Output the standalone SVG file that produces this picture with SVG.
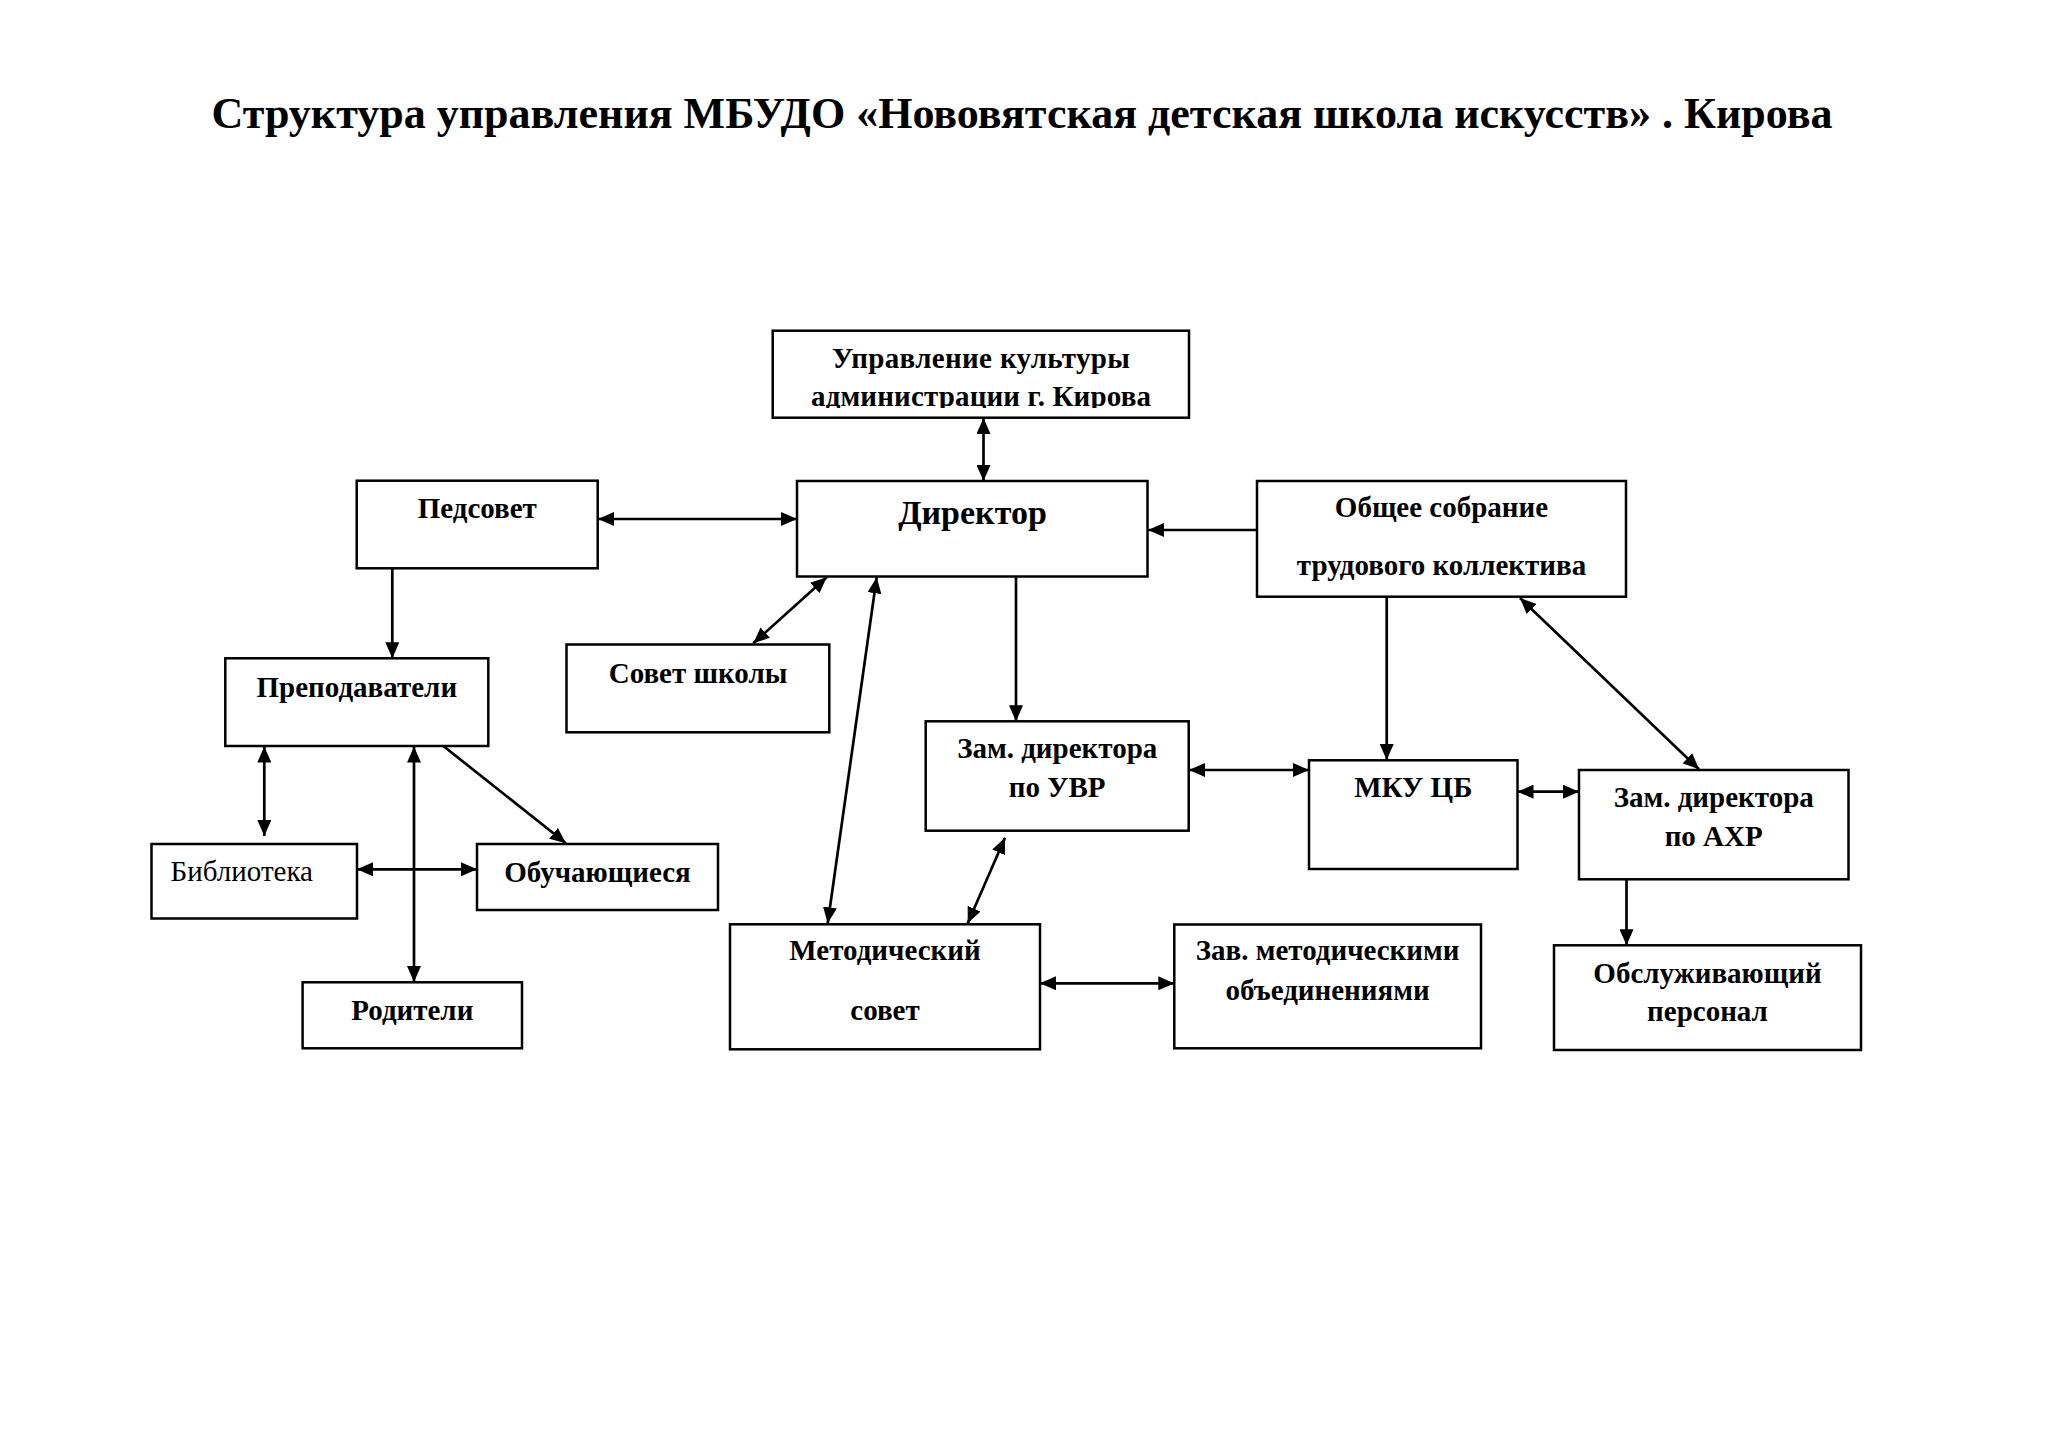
<svg xmlns="http://www.w3.org/2000/svg" width="2048" height="1448" viewBox="0 0 2048 1448">
<style>
.box{fill:#fff;stroke:#000;stroke-width:2.5}
.t{font-family:"Liberation Serif","Times New Roman",serif;font-weight:bold;font-size:29px;fill:#000;text-anchor:middle}
.r{font-weight:normal;text-anchor:start}
.c{fill:none;stroke:#000;stroke-width:2.7}
.a{marker-end:url(#arr)}
.b{marker-start:url(#arr);marker-end:url(#arr)}
</style>
<defs>
<marker id="arr" viewBox="0 0 16 14" markerWidth="16" markerHeight="14" refX="16" refY="7" orient="auto-start-reverse" markerUnits="userSpaceOnUse">
<path d="M0,0 L16,7 L0,14 z" fill="#000"/>
</marker>
<clipPath id="clipUpr"><rect x="772" y="330" width="418" height="78"/></clipPath>
</defs>
<rect width="2048" height="1448" fill="#fff"/>
<text class="t" x="1022" y="128" style="font-size:44px" textLength="1621" lengthAdjust="spacingAndGlyphs">Структура управления МБУДО «Нововятская детская школа искусств» . Кирова</text>

<g id="connectors">
<line class="c b" x1="983.5" y1="418" x2="983.5" y2="481"/>
<line class="c b" x1="598" y1="519" x2="797" y2="519"/>
<line class="c a" x1="1257" y1="530" x2="1148" y2="530"/>
<line class="c a" x1="392.3" y1="568.3" x2="392.3" y2="658.3"/>
<line class="c b" x1="753.3" y1="643.3" x2="826.7" y2="577.3"/>
<line class="c b" x1="827.7" y1="923.3" x2="876.7" y2="577.3"/>
<line class="c a" x1="1016" y1="576.7" x2="1016" y2="721.3"/>
<line class="c b" x1="1189" y1="770" x2="1309" y2="770"/>
<line class="c a" x1="1386.7" y1="596.7" x2="1386.7" y2="760"/>
<line class="c b" x1="1520" y1="598" x2="1699" y2="769.3"/>
<line class="c b" x1="1517.5" y1="791.7" x2="1579" y2="791.7"/>
<line class="c a" x1="1626.5" y1="879.3" x2="1626.5" y2="945.3"/>
<line class="c b" x1="967.7" y1="923.3" x2="1005" y2="837.7"/>
<line class="c b" x1="1040" y1="983.3" x2="1174.3" y2="983.3"/>
<line class="c b" x1="264.3" y1="746.5" x2="264.3" y2="836"/>
<line class="c b" x1="414" y1="746.5" x2="414" y2="982"/>
<line class="c b" x1="357" y1="869.3" x2="477" y2="869.3"/>
<line class="c a" x1="443.3" y1="746" x2="566" y2="843.3"/>
</g>

<g id="upravlenie">
<rect class="box" x="772.7" y="330.7" width="416.3" height="87"/>
<g clip-path="url(#clipUpr)">
<text class="t" x="981" y="368.3" textLength="298" lengthAdjust="spacing">Управление культуры</text>
<text class="t" x="981" y="406" textLength="340" lengthAdjust="spacing">администрации г. Кирова</text>
</g>
</g>
<g id="direktor">
<rect class="box" x="797" y="481" width="350.5" height="95.5"/>
<text class="t" x="972.5" y="524" style="font-size:34px">Директор</text>
</g>
<g id="pedsovet">
<rect class="box" x="356.7" y="480.7" width="241" height="87.6"/>
<text class="t" x="477.3" y="518.3">Педсовет</text>
</g>
<g id="obshchee">
<rect class="box" x="1257" y="481" width="369" height="115.7"/>
<text class="t" x="1441.5" y="516.7">Общее собрание</text>
<text class="t" x="1441.5" y="575">трудового коллектива</text>
</g>
<g id="prepodavateli">
<rect class="box" x="225.3" y="658.3" width="263" height="87.7"/>
<text class="t" x="356.8" y="696.7">Преподаватели</text>
</g>
<g id="sovet-shkoly">
<rect class="box" x="566.5" y="644.5" width="262.8" height="87.8"/>
<text class="t" x="698" y="682.7">Совет школы</text>
</g>
<g id="biblioteka">
<rect class="box" x="151.5" y="844" width="205.5" height="74.5"/>
<text class="t r" x="170.6" y="880.7">Библиотека</text>
</g>
<g id="obuchayushchiesya">
<rect class="box" x="477" y="844" width="241" height="66"/>
<text class="t" x="597.5" y="881.7">Обучающиеся</text>
</g>
<g id="roditeli">
<rect class="box" x="302.6" y="982.3" width="219.4" height="66"/>
<text class="t" x="412.3" y="1020">Родители</text>
</g>
<g id="zam-uvr">
<rect class="box" x="925.7" y="721.3" width="263" height="109.4"/>
<text class="t" x="1057.2" y="758.3">Зам. директора</text>
<text class="t" x="1057.2" y="796.7">по УВР</text>
</g>
<g id="mku-cb">
<rect class="box" x="1309" y="760.3" width="208.5" height="108.7"/>
<text class="t" x="1413.3" y="796.7">МКУ ЦБ</text>
</g>
<g id="zam-ahr">
<rect class="box" x="1579" y="770" width="269.5" height="109.3"/>
<text class="t" x="1713.7" y="807">Зам. директора</text>
<text class="t" x="1713.7" y="846">по АХР</text>
</g>
<g id="metod-sovet">
<rect class="box" x="730" y="924.3" width="310" height="125"/>
<text class="t" x="885" y="960">Методический</text>
<text class="t" x="885" y="1020">совет</text>
</g>
<g id="zav-metod">
<rect class="box" x="1174.3" y="924.5" width="306.7" height="123.8"/>
<text class="t" x="1327.6" y="960">Зав. методическими</text>
<text class="t" x="1327.6" y="1000">объединениями</text>
</g>
<g id="obsluzh">
<rect class="box" x="1554" y="945.3" width="307" height="104.7"/>
<text class="t" x="1707.5" y="982.7">Обслуживающий</text>
<text class="t" x="1707.5" y="1020.7">персонал</text>
</g>
</svg>
